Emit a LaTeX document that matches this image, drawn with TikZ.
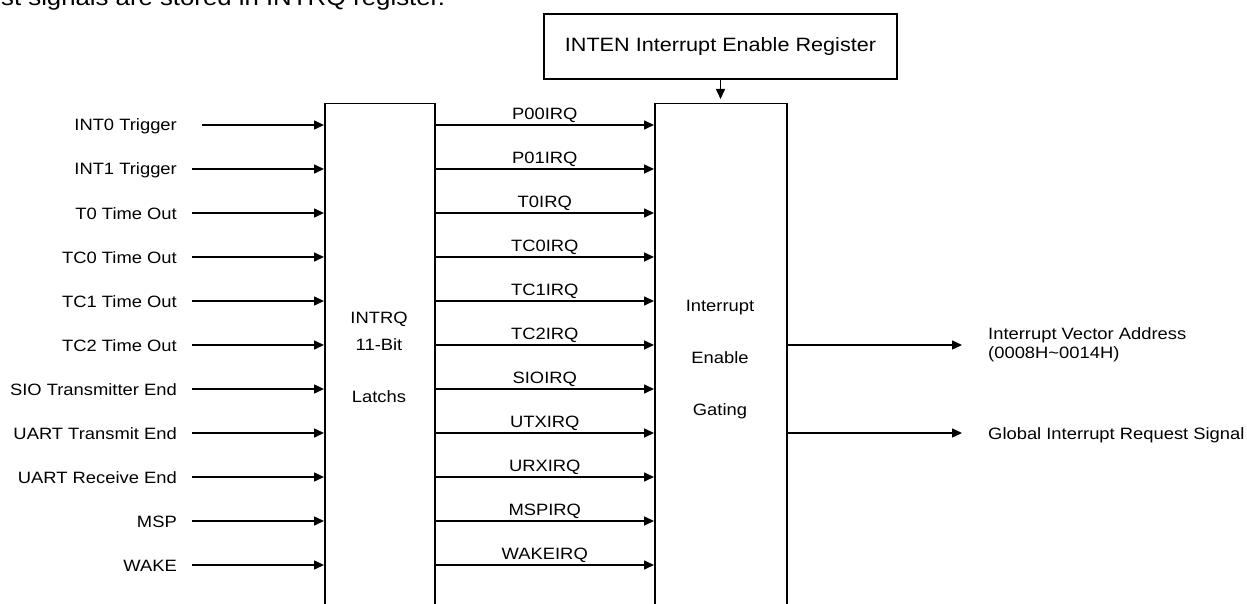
\documentclass[tikz,border=0pt]{standalone}
\usepackage{fontspec}
\setmainfont{Liberation Sans}[FakeStretch=1.12]
\usetikzlibrary{arrows.meta}
\begin{document}
\begin{tikzpicture}[x=1pt,y=-1pt,
  blk/.style={draw, line width=1.5pt, inner sep=0pt, rectangle},
  sig/.style={line width=1.5pt, -{Triangle[length=10pt,width=9pt]}},
  lbl/.style={font=\fontsize{16.4pt}{19pt}\selectfont, inner sep=0pt},
  big/.style={font=\fontsize{19.3pt}{23pt}\selectfont, inner sep=0pt},
  head/.style={font=\fontsize{23pt}{27pt}\selectfont, inner sep=0pt}]
\clip (0,0) rectangle (1247,604);
\fill[white] (0,0) rectangle (1247,604);

% caption line running above the figure
\node[head, anchor=base west] (caption) at (1,6) {st signals are stored in INTRQ register.};

% main blocks
\node[blk, anchor=north west, minimum width=110pt, minimum height=540pt] (latch) at (324,103) {};
\node[blk, anchor=north west, minimum width=132pt, minimum height=540pt] (gate) at (654,103) {};
\node[blk, big, minimum width=353pt, minimum height=65pt] (inten) at (720.5,46.5) {INTEN Interrupt Enable Register};

% block captions
\node[lbl, anchor=base] (latchA) at (379,323) {INTRQ};
\node[lbl, anchor=base] (latchB) at (379,350) {11-Bit};
\node[lbl, anchor=base] (latchC) at (379,402) {Latchs};
\node[lbl, anchor=base] (gateA) at (720,311) {Interrupt};
\node[lbl, anchor=base] (gateB) at (720,363) {Enable};
\node[lbl, anchor=base] (gateC) at (720,415) {Gating};

% enable register feeds the gating block
\draw[sig, shorten >=4pt] (inten.south) -- (inten.south |- gate.north);

% interrupt sources, latched requests
\foreach \src/\irq [count=\k from 0] in {
    INT0 Trigger/P00IRQ, INT1 Trigger/P01IRQ, T0 Time Out/T0IRQ,
    TC0 Time Out/TC0IRQ, TC1 Time Out/TC1IRQ, TC2 Time Out/TC2IRQ,
    SIO Transmitter End/SIOIRQ, UART Transmit End/UTXIRQ,
    UART Receive End/URXIRQ, MSP/MSPIRQ, WAKE/WAKEIRQ} {
  \pgfmathsetmacro\yy{125+44*\k}
  \pgfmathsetmacro\xs{\k==0 ? 202 : 192}
  \node[lbl, anchor=base east] (src\k) at (177,\yy+6) {\src};
  \coordinate (start\k) at (\xs,\yy);
  \draw[sig] (start\k) -- (latch.west |- start\k);
  \draw[sig] (latch.east |- start\k) --
    node[lbl, anchor=base, yshift=5.5pt] (irq\k) {\irq} (gate.west |- start\k);
}

% outputs of the gating block
\coordinate (vecend) at (962,345);
\coordinate (reqend) at (962,433);
\draw[sig] (gate.east |- vecend) -- (vecend);
\draw[sig] (gate.east |- reqend) -- (reqend);
\node[lbl, anchor=base west] (vecA) at (988,339) {Interrupt Vector Address};
\node[lbl, anchor=base west] (vecB) at (988,358) {(0008H\textasciitilde 0014H)};
\node[lbl, anchor=base west] (req) at (988,439) {Global Interrupt Request Signal};
\end{tikzpicture}
\end{document}
